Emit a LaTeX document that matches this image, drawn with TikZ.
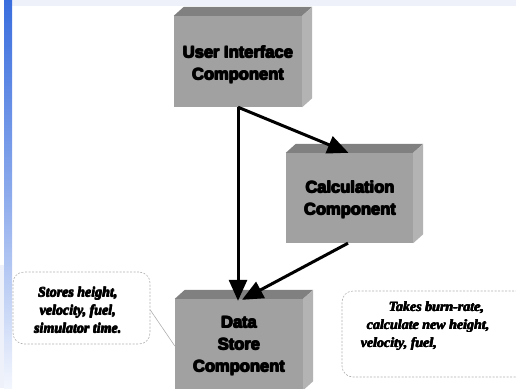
\documentclass[tikz,border=0pt]{standalone}
\usepackage{fontspec}
\setmainfont{Liberation Serif}
\newfontfamily\boxfont{Liberation Sans}
\newfontfamily\notefont{Liberation Serif}
\usetikzlibrary{arrows.meta,calc}

\definecolor{facefront}{RGB}{161,161,161}
\definecolor{facetop}{RGB}{128,128,128}
\definecolor{faceside}{RGB}{179,179,179}
\definecolor{bandtop}{RGB}{58,110,222}
\definecolor{bandmid}{RGB}{140,170,236}
\definecolor{bandbot}{RGB}{243,246,253}
\definecolor{stripfill}{RGB}{238,241,250}
\definecolor{notegray}{RGB}{175,175,175}

% heavy lettering: the line is set four times with a slight offset
\newcommand\heavy[2][1pt]{\leavevmode\rlap{\hspace{#1}#2}\rlap{\raisebox{#1}{#2}}\rlap{\hspace{#1}\raisebox{#1}{#2}}#2}

\tikzset{
  face/.style={fill=facefront, draw=none, inner sep=0pt},
  facelabel/.style={font=\boxfont\bfseries\fontsize{16.5}{22}\selectfont, align=center, text=black},
  notebox/.style={draw=notegray, dashed, dash pattern=on 2pt off 1.5pt, line width=0.6pt, rounded corners=11pt, inner sep=0pt},
  notelabel/.style={font=\notefont\bfseries\itshape\fontsize{14}{18}\selectfont, text=black},
  conn/.style={line width=3pt, -{Triangle[length=21pt,width=18pt]}},
  leader/.style={draw=notegray, line width=0.6pt}
}

% draws the top and right faces of a block whose front face is node #1
\newcommand\blockdepth[1]{%
  \fill[facetop] (#1.north west) -- ($(#1.north west)+(10,-9)$) -- ($(#1.north east)+(10,-9)$) -- (#1.north east) -- cycle;
  \fill[faceside] (#1.north east) -- ($(#1.north east)+(10,-9)$) -- ($(#1.south east)+(10,-9)$) -- (#1.south east) -- cycle;
}

\begin{document}
\begin{tikzpicture}[x=1pt, y=-1pt]
\useasboundingbox (0,0) rectangle (516,388);

% slide background bands
\fill[stripfill] (12,0) rectangle (516,6);
\fill[stripfill] (0,265) rectangle (4,388);
\shade[top color=bandtop, bottom color=bandbot, middle color=bandmid] (4,0) rectangle (12,388);

% blocks
\node[face, minimum width=128pt, minimum height=91pt] (ui) at (238,61.5) {};
\blockdepth{ui}
\node[facelabel] (uitext) at (237.5,64.5) {\heavy{User Interface}\\\heavy{Component}};

\node[face, minimum width=127pt, minimum height=90pt] (calc) at (349.5,198) {};
\blockdepth{calc}
\node[facelabel] (calctext) at (349.5,199.5) {\heavy{Calculation}\\\heavy{Component}};

\node[face, minimum width=128pt, minimum height=91pt] (store) at (239,344.5) {};
\blockdepth{store}
\node[facelabel] (storetext) at (238.5,346) {\heavy{Data}\\\heavy{Store}\\\heavy{Component}};

% connectors
\draw[conn] (ui.south) -- ([xshift=-1pt]calc.north);
\draw[conn] (ui.south) -- ([yshift=-2pt,xshift=-1pt]store.north);
\draw[conn] ([xshift=-1.5pt]calc.south) -- ([yshift=-1pt,xshift=3pt]store.north);

% notes
\node[notebox, minimum width=137pt, minimum height=72pt] (noteL) at (81.5,308) {};
\node[notelabel, align=center] (noteLtext) at (77.5,310)
  {\heavy[0.6pt]{Stores height,}\\\heavy[0.6pt]{velocity, fuel,}\\\heavy[0.6pt]{simulator time.}};
\draw[leader] ([yshift=-2pt]noteL.east) -- ([yshift=-1.5pt]store.west);

\node[notebox, minimum width=190pt, minimum height=86pt] (noteR) at (437,334) {};
\node[notelabel, align=left, anchor=north west] (noteRtext) at (357,298)
  {\hspace*{28pt}\heavy[0.6pt]{Takes burn-rate,}\\\hspace*{6pt}\heavy[0.6pt]{calculate new height,}\\\heavy[0.6pt]{velocity, fuel,}};
\end{tikzpicture}
\end{document}
